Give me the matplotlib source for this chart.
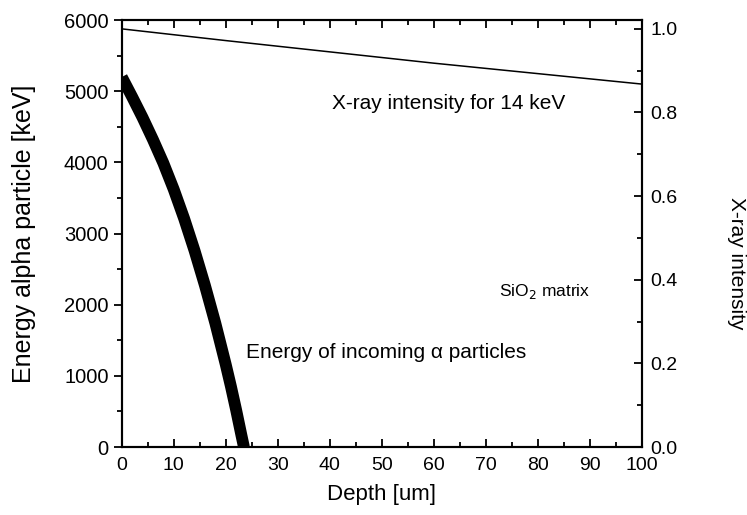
import matplotlib.pyplot as plt
from matplotlib.ticker import MultipleLocator
import numpy as np

plt.rcParams['font.family'] = ['Liberation Sans', 'DejaVu Sans']

# Energy of the alpha particle vs depth
depth_alpha = [0, 2, 4, 6, 8, 10, 12, 14, 16, 18, 20, 21, 22, 23, 23.5]
energy_alpha = [5200, 4920, 4630, 4320, 3990, 3620, 3210, 2760, 2270, 1740, 1160, 850, 520, 170, 0]

# X-ray intensity (14 keV) vs depth
depth_xray = [0, 20, 40, 60, 80, 100]
xray_int = [1.0, 0.972, 0.945, 0.918, 0.893, 0.868]

fig = plt.figure(figsize=(7.47, 5.15), dpi=100)
ax = fig.add_axes([0.163, 0.132, 0.696, 0.829])
ax2 = ax.twinx()

ax.plot(depth_alpha, energy_alpha, color='black', lw=8.5, solid_capstyle='butt',
        solid_joinstyle='round')
ax2.plot(depth_xray, xray_int, color='black', lw=1.1)

ax.set_xlim(0, 100)
ax.set_ylim(0, 6000)
ax2.set_ylim(0, 1.021)

ax.xaxis.set_major_locator(MultipleLocator(10))
ax.xaxis.set_minor_locator(MultipleLocator(5))
ax.yaxis.set_major_locator(MultipleLocator(1000))
ax.yaxis.set_minor_locator(MultipleLocator(500))
ax2.yaxis.set_major_locator(MultipleLocator(0.2))
ax2.yaxis.set_minor_locator(MultipleLocator(0.1))
ax2.yaxis.set_major_formatter(plt.FuncFormatter(lambda v, p: f'{v:.1f}'))

ax.tick_params(axis='x', which='both', direction='in', top=True, labelsize=14, width=1.3, pad=7)
ax.tick_params(axis='x', which='major', length=6)
ax.tick_params(axis='x', which='minor', length=3.5)
ax.tick_params(axis='y', which='both', direction='out', labelsize=14.5, width=1.3)
ax.tick_params(axis='y', which='major', length=6)
ax.tick_params(axis='y', which='minor', length=3.5)
ax2.tick_params(axis='y', which='both', direction='in', labelsize=14, width=1.3, pad=6)
ax2.tick_params(axis='y', which='major', length=6)
ax2.tick_params(axis='y', which='minor', length=3.5)

for a in (ax, ax2):
    for s in a.spines.values():
        s.set_linewidth(1.5)

ax.set_xlabel('Depth [um]', fontsize=16)
ax.set_ylabel('Energy alpha particle [keV]', fontsize=18)
ax2.set_ylabel('X-ray intensity', fontsize=15, rotation=270)
ax.xaxis.set_label_coords(0.5, -0.086)
ax.yaxis.set_label_coords(-0.165, 0.5)
ax2.yaxis.set_label_coords(1.2, 0.43)

ax.text(40.5, 4830, 'X-ray intensity for 14 keV', fontsize=15, va='center')
ax.text(72.5, 2180, 'SiO$_2$ matrix', fontsize=12.5, va='center')
ax.text(23.8, 1330, 'Energy of incoming α particles', fontsize=15, va='center')

fig.savefig('out.png', dpi=100)
